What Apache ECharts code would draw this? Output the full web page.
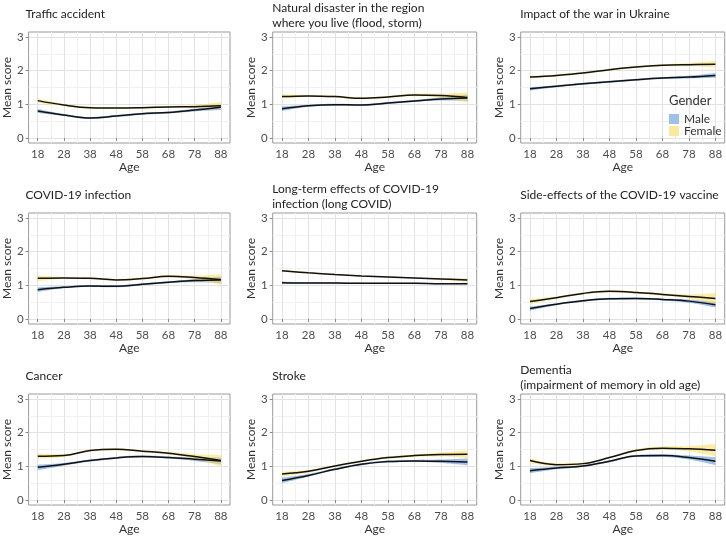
<!DOCTYPE html>
<html>
<head>
<meta charset="utf-8">
<script src="https://cdn.jsdelivr.net/npm/echarts@6/dist/echarts.min.js"></script>
<style>html,body{margin:0;padding:0;background:#fff}#c{width:726px;height:540px}</style>
</head>
<body>
<div id="c"></div>
<script>
// ---- data ----
const ages = [18, 28, 38, 48, 58, 68, 78, 88];
const xTicks = [18, 28, 38, 48, 58, 68, 78, 88];
const xMinor = [23, 33, 43, 53, 63, 73, 83];
const yTicks = [0, 1, 2, 3];
const yMinor = [0.5, 1.5, 2.5];
const panelTitles = [
  "Traffic accident",
  "Natural disaster in the region\nwhere you live (flood, storm)",
  "Impact of the war in Ukraine",
  "COVID-19 infection",
  "Long-term effects of COVID-19\ninfection (long COVID)",
  "Side-effects of the COVID-19 vaccine",
  "Cancer",
  "Stroke",
  "Dementia\n(impairment of memory in old age)"
];
const genders = ["Male", "Female"];
const maleMean = [
  [0.80, 0.68, 0.59, 0.65, 0.72, 0.76, 0.83, 0.91],
  [0.87, 0.96, 0.99, 0.98, 1.04, 1.10, 1.16, 1.19],
  [1.46, 1.54, 1.61, 1.67, 1.73, 1.78, 1.81, 1.86],
  [0.87, 0.94, 0.98, 0.97, 1.03, 1.09, 1.14, 1.16],
  [1.08, 1.07, 1.07, 1.06, 1.06, 1.06, 1.05, 1.05],
  [0.31, 0.44, 0.54, 0.60, 0.61, 0.58, 0.53, 0.42],
  [0.97, 1.06, 1.17, 1.25, 1.29, 1.26, 1.21, 1.16],
  [0.58, 0.73, 0.91, 1.06, 1.14, 1.16, 1.15, 1.13],
  [0.87, 0.95, 1.01, 1.15, 1.31, 1.32, 1.26, 1.15]
];
const maleCI = [
  [0.06, 0.03, 0.03, 0.03, 0.03, 0.03, 0.04, 0.08],
  [0.07, 0.03, 0.03, 0.03, 0.03, 0.03, 0.05, 0.10],
  [0.05, 0.03, 0.03, 0.03, 0.03, 0.03, 0.04, 0.07],
  [0.07, 0.03, 0.03, 0.03, 0.03, 0.03, 0.05, 0.10],
  [0.03, 0.02, 0.02, 0.02, 0.02, 0.02, 0.02, 0.03],
  [0.06, 0.03, 0.03, 0.03, 0.03, 0.03, 0.05, 0.08],
  [0.08, 0.04, 0.03, 0.03, 0.03, 0.03, 0.05, 0.10],
  [0.08, 0.04, 0.03, 0.03, 0.03, 0.03, 0.05, 0.10],
  [0.08, 0.04, 0.03, 0.03, 0.03, 0.04, 0.06, 0.12]
];
const femaleMean = [
  [1.11, 0.98, 0.90, 0.89, 0.90, 0.92, 0.93, 0.96],
  [1.23, 1.25, 1.23, 1.18, 1.22, 1.28, 1.26, 1.20],
  [1.81, 1.86, 1.93, 2.03, 2.11, 2.16, 2.18, 2.19],
  [1.21, 1.22, 1.21, 1.16, 1.20, 1.27, 1.23, 1.17],
  [1.43, 1.37, 1.32, 1.28, 1.25, 1.22, 1.19, 1.16],
  [0.52, 0.63, 0.76, 0.82, 0.79, 0.73, 0.67, 0.61],
  [1.30, 1.32, 1.47, 1.51, 1.45, 1.39, 1.29, 1.17],
  [0.77, 0.85, 1.01, 1.15, 1.26, 1.32, 1.35, 1.36],
  [1.17, 1.05, 1.08, 1.26, 1.47, 1.54, 1.52, 1.48]
];
const femaleCI = [
  [0.06, 0.03, 0.03, 0.03, 0.03, 0.03, 0.05, 0.11],
  [0.06, 0.03, 0.03, 0.03, 0.03, 0.04, 0.06, 0.15],
  [0.04, 0.03, 0.03, 0.03, 0.03, 0.03, 0.05, 0.10],
  [0.08, 0.03, 0.03, 0.03, 0.03, 0.04, 0.06, 0.16],
  [0.03, 0.02, 0.02, 0.02, 0.02, 0.02, 0.03, 0.05],
  [0.08, 0.04, 0.03, 0.03, 0.03, 0.04, 0.06, 0.16],
  [0.07, 0.04, 0.03, 0.03, 0.03, 0.04, 0.07, 0.17],
  [0.07, 0.04, 0.03, 0.03, 0.03, 0.04, 0.06, 0.12],
  [0.07, 0.04, 0.03, 0.03, 0.04, 0.05, 0.08, 0.18]
];

// ---- layout / style ----
const FONT = "Lato";
const colLeft = [26, 272.7, 520.7];
const rowTop = [32, 213, 394];
const PW = 204, PH = 111;
const bandColor = { Male: "rgba(95,150,220,0.6)", Female: "rgba(250,220,90,0.55)" };
const keyColor = { Male: "#9fc0e8", Female: "#fbe9a0" };

const grids = [], xAxes = [], yAxes = [], series = [], titles = [];

for (let i = 0; i < 9; i++) {
  const r = Math.floor(i / 3), c = i % 3;
  grids.push({ left: colLeft[c], top: rowTop[r], width: PW, height: PH, show: true,
    borderColor: "#9a9a9a", borderWidth: 1, backgroundColor: "#fff", containLabel: false });
  xAxes.push({ type: "value", gridIndex: i, min: 14.5, max: 91.5,
    name: "Age", nameLocation: "middle", nameGap: 17,
    nameTextStyle: { fontFamily: FONT, fontSize: 12, color: "#333" },
    axisLine: { show: false },
    axisTick: { show: true, customValues: xTicks, length: 3, lineStyle: { color: "#8a8a8a" } },
    axisLabel: { customValues: xTicks, margin: 5, fontFamily: FONT, fontSize: 11.5, color: "#4d4d4d" },
    splitLine: { show: true, lineStyle: { color: "#e2e2e2", width: 1 } }, z: 1 });
  xAxes.push({ type: "value", gridIndex: i, min: 14.5, max: 91.5, position: "top",
    axisLine: { show: false }, axisTick: { show: false, customValues: xMinor },
    axisLabel: { show: false }, splitLine: { show: true, lineStyle: { color: "#f1f1f1", width: 1 } }, z: 0 });
  yAxes.push({ type: "value", gridIndex: i, min: -0.15, max: 3.15,
    name: "Mean score", nameLocation: "middle", nameGap: 13,
    nameTextStyle: { fontFamily: FONT, fontSize: 12, color: "#333" },
    axisLine: { show: false },
    axisTick: { show: true, customValues: yTicks, length: 3, lineStyle: { color: "#8a8a8a" } },
    axisLabel: { customValues: yTicks, margin: 5, fontFamily: FONT, fontSize: 11.5, color: "#4d4d4d" },
    splitLine: { show: true, lineStyle: { color: "#e2e2e2", width: 1 } }, z: 1 });
  yAxes.push({ type: "value", gridIndex: i, min: -0.15, max: 3.15, position: "right",
    axisLine: { show: false }, axisTick: { show: false, customValues: yMinor },
    axisLabel: { show: false }, splitLine: { show: true, lineStyle: { color: "#f1f1f1", width: 1 } }, z: 0 });

  const two = panelTitles[i].indexOf("\n") >= 0;
  titles.push({ text: panelTitles[i], left: colLeft[c] - 0.5, top: rowTop[r] - (two ? 32 : 26), padding: 0,
    textStyle: { fontFamily: FONT, fontSize: 12, fontWeight: "normal", color: "#222", lineHeight: 15.5 } });

  const xi = 2 * i, yi = 2 * i;
  const sets = { Male: [maleMean[i], maleCI[i]], Female: [femaleMean[i], femaleCI[i]] };
  genders.forEach(g => {
    const [m, ci] = sets[g];
    const st = "band" + i + g;
    // value first so that stacking happens on the y dimension
    series.push({ type: "line", name: g + "-lo", xAxisIndex: xi, yAxisIndex: yi, stack: st,
      dimensions: ["v", "age"], encode: { x: "age", y: "v" },
      data: ages.map((a, k) => [m[k] - ci[k], a]), smooth: 0.4, symbol: "none",
      lineStyle: { opacity: 0 }, silent: true, z: 2 });
    series.push({ type: "line", name: g, xAxisIndex: xi, yAxisIndex: yi, stack: st,
      dimensions: ["v", "age"], encode: { x: "age", y: "v" },
      data: ages.map((a, k) => [2 * ci[k], a]), smooth: 0.4, symbol: "none",
      lineStyle: { opacity: 0 }, areaStyle: { color: bandColor[g], opacity: 1 }, silent: true, z: 2 });
  });
  genders.forEach(g => {
    const [m] = sets[g];
    series.push({ type: "line", name: g + "-line", xAxisIndex: xi, yAxisIndex: yi,
      data: ages.map((a, k) => [a, m[k]]), smooth: 0.4, symbol: "none",
      lineStyle: { color: "#111", width: 1.5 }, silent: true, z: 3 });
  });
}

titles.push({ text: "Gender", left: 669, top: 94, padding: 0,
  textStyle: { fontFamily: FONT, fontSize: 13, fontWeight: "normal", color: "#333" } });

const chart = echarts.init(document.getElementById("c"), null, { renderer: "canvas" });
chart.setOption({
  backgroundColor: "#fff",
  animation: false,
  title: titles,
  grid: grids,
  xAxis: xAxes,
  yAxis: yAxes,
  legend: {
    data: genders.map(g => ({ name: g, icon: "rect", itemStyle: { color: keyColor[g] } })),
    orient: "vertical", left: 669, top: 113, itemWidth: 10, itemHeight: 10, itemGap: 0, padding: 0,
    selectedMode: false,
    textStyle: { fontFamily: FONT, fontSize: 12, color: "#333", lineHeight: 10 }
  },
  series: series
});
</script>
</body>
</html>
